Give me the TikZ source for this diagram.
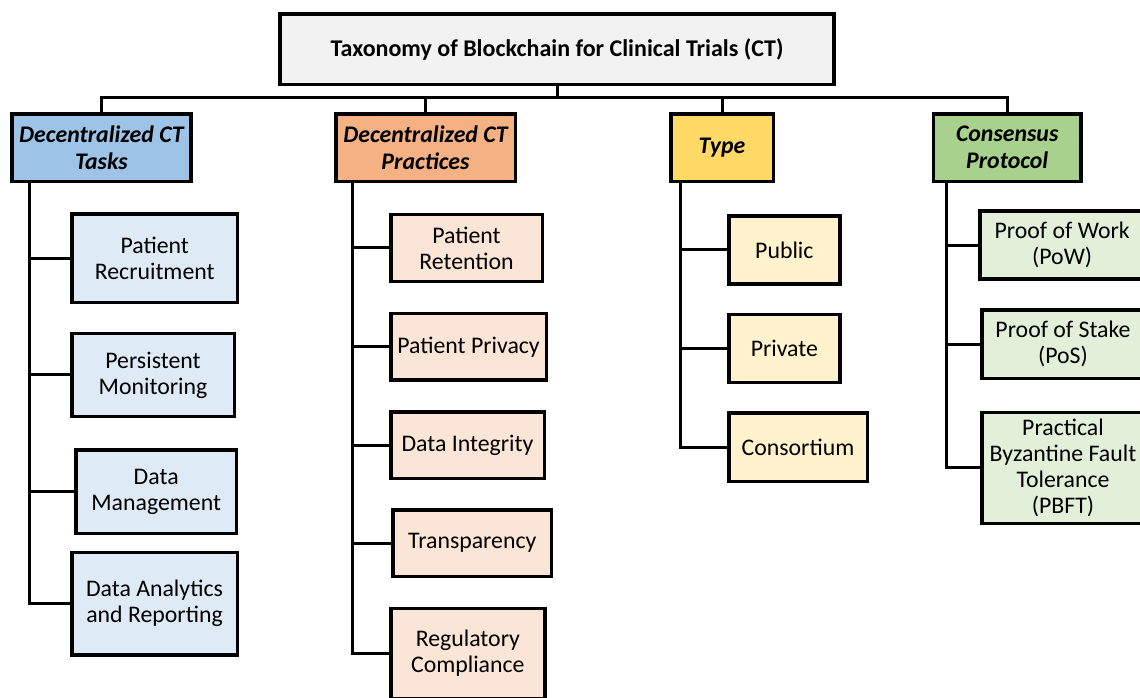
\documentclass[tikz,border=0pt]{standalone}
\usepackage{fontspec}
\setmainfont{Carlito}
\definecolor{titlefill}{HTML}{F2F2F2}
\definecolor{blueH}{HTML}{9DC3E6}
\definecolor{blueC}{HTML}{DEEBF7}
\definecolor{orangeH}{HTML}{F4B183}
\definecolor{orangeC}{HTML}{FBE5D6}
\definecolor{yellowH}{HTML}{FFD966}
\definecolor{yellowC}{HTML}{FFF2CC}
\definecolor{greenH}{HTML}{A9D18E}
\definecolor{greenC}{HTML}{E2F0D9}
\tikzset{
  box/.style={draw=black, line width=3.5pt, rectangle, align=center, inner sep=0pt,
    font=\fontsize{23.8}{26}\selectfont},
  head/.style={box, font=\fontsize{23.8}{26.5}\selectfont\bfseries\itshape},
  conn/.style={draw=black, line width=3pt},
}
\begin{document}
\begin{tikzpicture}[x=1pt,y=-1pt]
\useasboundingbox (0,0) rectangle (1140,697);
\clip (0,0) rectangle (1140,697);
\fill[white] (0,0) rectangle (1140,697);
% title
\node[box, fill=titlefill, minimum width=554pt, minimum height=70.5pt,
  font=\fontsize{24}{26}\selectfont\bfseries] (title) at (557,49)
  {Taxonomy of Blockchain for Clinical Trials (CT)};
% headers
\node[head, fill=blueH, minimum width=178.7pt, minimum height=67.5pt] (h1) at (101.4,147.5) {Decentralized CT\\Tasks};
\node[head, fill=orangeH, minimum width=179.5pt, minimum height=67.5pt] (h2) at (425.5,147.5) {Decentralized CT\\Practices};
\node[head, fill=yellowH, minimum width=102.5pt, minimum height=67.5pt] (h3) at (722,147.5) {Type};
\node[head, fill=greenH, minimum width=147.4pt, minimum height=67.5pt] (h4) at (1007.25,147.5) {Consensus\\Protocol};
% column 1
\node[box, fill=blueC, minimum width=165.8pt, minimum height=88.5pt] (c11) at (154.7,258) {Patient\\Recruitment};
\node[box, fill=blueC, minimum width=162.5pt, minimum height=82.8pt] (c12) at (153,374.9) {Persistent\\Monitoring};
\node[box, fill=blueC, minimum width=160.8pt, minimum height=83.5pt] (c13) at (156.2,491.5) {Data\\Management};
\node[box, fill=blueC, minimum width=165.5pt, minimum height=102.5pt] (c14) at (154.5,603.7) {Data Analytics\\and Reporting};
% column 2
\node[box, fill=orangeC, minimum width=151.5pt, minimum height=66.8pt] (c21) at (466.5,247.9) {Patient\\Retention};
\node[box, fill=orangeC, minimum width=155.5pt, minimum height=66.5pt] (c22) at (468.5,346.7) {Patient Privacy};
\node[box, fill=orangeC, minimum width=153.5pt, minimum height=66.5pt] (c23) at (467.5,445) {Data Integrity};
\node[box, fill=orangeC, minimum width=158.5pt, minimum height=66.5pt] (c24) at (472.3,543) {Transparency};
\node[box, fill=orangeC, minimum width=154.2pt, minimum height=89.8pt] (c25) at (467.85,653.35) {Regulatory\\Compliance};
% column 3
\node[box, fill=yellowC, minimum width=111.2pt, minimum height=68.2pt] (c31) at (784.35,249.85) {Public};
\node[box, fill=yellowC, minimum width=111.2pt, minimum height=67.8pt] (c32) at (784.35,348.35) {Private};
\node[box, fill=yellowC, minimum width=138.5pt, minimum height=68.8pt] (c33) at (798,447.15) {Consortium};
% column 4
\node[box, fill=greenC, minimum width=164.2pt, minimum height=67.9pt] (c41) at (1062.15,245) {Proof of Work\\(PoW)};
\node[box, fill=greenC, minimum width=162.5pt, minimum height=68.2pt] (c42) at (1063,344.15) {Proof of Stake\\(PoS)};
\node[box, fill=greenC, minimum width=162.5pt, minimum height=110.8pt] (c43) at (1063,467.85) {Practical\\Byzantine Fault\\Tolerance\\(PBFT)};
% bus
\coordinate (bus) at (557,97.7);
\draw[conn] (title.south) -- (bus);
\draw[conn] (h1.north) |- (bus);
\draw[conn] (h4.north) |- (bus);
\draw[conn] (h2.north) -- (h2.north |- bus);
\draw[conn] (h3.north) -- (h3.north |- bus);
% spines
\coordinate (s1) at (29.5,183);
\coordinate (s2) at (352.7,183);
\coordinate (s3) at (680.7,183);
\coordinate (s4) at (946.7,183);
\draw[conn] (s1) |- (c14.west);
\foreach \n in {c11,c12,c13} \draw[conn] (\n.west) -- (\n.west -| s1);
\draw[conn] (s2) |- (c25.west);
\foreach \n in {c21,c22,c23,c24} \draw[conn] (\n.west) -- (\n.west -| s2);
\draw[conn] (s3) |- (c33.west);
\foreach \n in {c31,c32} \draw[conn] (\n.west) -- (\n.west -| s3);
\draw[conn] (s4) |- (c43.west);
\foreach \n in {c41,c42} \draw[conn] (\n.west) -- (\n.west -| s4);
\end{tikzpicture}
\end{document}
